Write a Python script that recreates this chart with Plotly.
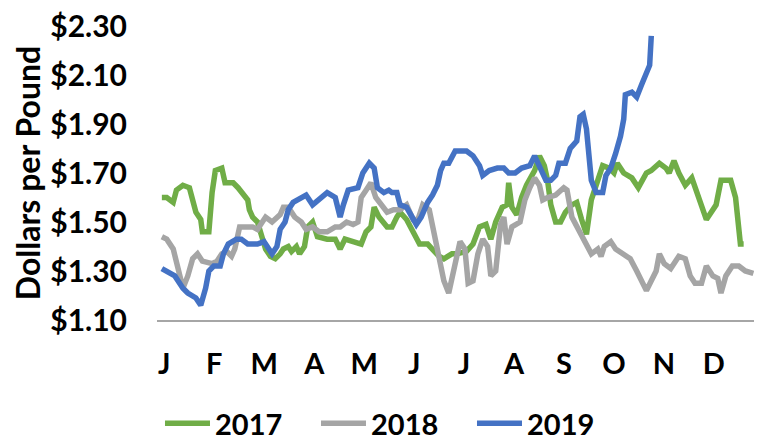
"""
Weekly price comparison, 2017-2019
"""
import plotly.graph_objects as go

# day of year / price ($/lb)
days_2017 = [1, 4, 8, 10, 14, 18, 20, 22, 25, 26, 30, 32, 34, 38, 40, 45, 48, 50, 54, 55,
             57, 60, 62, 65, 68, 71, 74, 76, 79, 81, 84, 86, 89, 91, 94, 97, 103, 108, 111,
             114, 119, 124, 127, 130, 132, 135, 140, 143, 146, 148, 152, 156, 160, 165, 168,
             172, 175, 180, 183, 189, 193, 197, 201, 204, 207, 211, 214, 215, 217, 220, 223,
             226, 231, 234, 237, 239, 241, 244, 247, 250, 254, 257, 260, 263, 266, 270, 273,
             277, 280, 282, 286, 291, 295, 300, 303, 308, 312, 314, 317, 320, 324, 328, 332,
             337, 340, 343, 346, 352, 355, 358, 360]
price_2017 = [1.60, 1.60, 1.58, 1.63, 1.65, 1.64, 1.59, 1.54, 1.51, 1.46, 1.46, 1.62, 1.71,
              1.72, 1.66, 1.66, 1.64, 1.62, 1.59, 1.55, 1.52, 1.50, 1.45, 1.39, 1.36, 1.35,
              1.37, 1.39, 1.40, 1.38, 1.40, 1.37, 1.40, 1.48, 1.50, 1.44, 1.43, 1.43, 1.39,
              1.43, 1.42, 1.41, 1.46, 1.48, 1.56, 1.52, 1.48, 1.48, 1.52, 1.54, 1.51, 1.46,
              1.41, 1.41, 1.39, 1.36, 1.35, 1.37, 1.37, 1.38, 1.41, 1.48, 1.49, 1.43, 1.50,
              1.56, 1.57, 1.66, 1.56, 1.53, 1.60, 1.65, 1.71, 1.77, 1.73, 1.67, 1.57, 1.50,
              1.50, 1.54, 1.57, 1.58, 1.51, 1.45, 1.59, 1.68, 1.73, 1.72, 1.70, 1.74, 1.70,
              1.68, 1.64, 1.70, 1.71, 1.74, 1.72, 1.70, 1.75, 1.70, 1.65, 1.68, 1.60, 1.51,
              1.54, 1.57, 1.67, 1.67, 1.60, 1.41, 1.41]

days_2018 = [1, 4, 8, 11, 14, 17, 20, 23, 26, 32, 35, 38, 41, 44, 46, 49, 52, 57, 60, 65,
             69, 74, 76, 79, 83, 87, 90, 94, 98, 103, 108, 111, 115, 119, 122, 124, 127, 130,
             133, 137, 140, 144, 148, 152, 156, 159, 162, 166, 169, 172, 175, 178, 182, 185,
             188, 190, 193, 196, 199, 202, 204, 207, 210, 212, 214, 217, 222, 225, 228, 231,
             234, 236, 239, 244, 249, 251, 254, 257, 260, 263, 266, 270, 272, 274, 278, 281,
             286, 290, 294, 297, 300, 303, 306, 308, 311, 315, 320, 324, 327, 330, 334, 337,
             341, 344, 346, 349, 353, 357, 361, 366]
price_2018 = [1.44, 1.43, 1.39, 1.32, 1.23, 1.28, 1.35, 1.37, 1.34, 1.33, 1.34, 1.37, 1.38,
              1.36, 1.39, 1.48, 1.48, 1.48, 1.47, 1.52, 1.50, 1.53, 1.56, 1.56, 1.52, 1.50,
              1.47, 1.48, 1.46, 1.46, 1.48, 1.48, 1.50, 1.49, 1.50, 1.60, 1.63, 1.66, 1.60,
              1.57, 1.54, 1.55, 1.55, 1.57, 1.51, 1.51, 1.57, 1.55, 1.45, 1.34, 1.26, 1.21,
              1.32, 1.42, 1.39, 1.25, 1.26, 1.37, 1.43, 1.40, 1.28, 1.30, 1.49, 1.52, 1.41,
              1.48, 1.50, 1.59, 1.64, 1.68, 1.65, 1.59, 1.60, 1.61, 1.64, 1.63, 1.52, 1.48,
              1.44, 1.41, 1.37, 1.39, 1.36, 1.40, 1.42, 1.39, 1.37, 1.35, 1.30, 1.26, 1.22,
              1.26, 1.30, 1.37, 1.33, 1.31, 1.36, 1.35, 1.28, 1.25, 1.25, 1.32, 1.28, 1.27,
              1.21, 1.28, 1.32, 1.32, 1.30, 1.29]

days_2019 = [1, 4, 9, 14, 17, 22, 25, 28, 30, 33, 37, 39, 42, 47, 50, 54, 60, 64, 67, 69,
             72, 74, 77, 79, 82, 87, 90, 94, 98, 103, 108, 111, 113, 116, 122, 125, 129, 132,
             134, 138, 141, 143, 146, 148, 152, 155, 158, 161, 165, 168, 171, 173, 175, 178,
             182, 185, 189, 193, 197, 199, 203, 208, 212, 215, 219, 223, 228, 231, 234, 238,
             241, 244, 246, 250, 253, 257, 259, 261, 263, 265, 266, 269, 273, 275, 278, 281,
             284, 286, 287, 291, 294, 297, 300, 302, 303]
price_2019 = [1.31, 1.30, 1.28, 1.23, 1.21, 1.19, 1.16, 1.23, 1.30, 1.32, 1.32, 1.37, 1.41,
              1.43, 1.43, 1.41, 1.41, 1.42, 1.39, 1.37, 1.40, 1.47, 1.50, 1.55, 1.58, 1.60,
              1.61, 1.57, 1.59, 1.62, 1.60, 1.52, 1.57, 1.63, 1.64, 1.70, 1.74, 1.72, 1.64,
              1.62, 1.63, 1.62, 1.62, 1.57, 1.56, 1.53, 1.49, 1.52, 1.58, 1.61, 1.65, 1.71,
              1.74, 1.74, 1.79, 1.79, 1.79, 1.77, 1.73, 1.69, 1.71, 1.72, 1.72, 1.70, 1.70,
              1.72, 1.73, 1.77, 1.73, 1.67, 1.67, 1.69, 1.74, 1.74, 1.80, 1.83, 1.93, 1.94,
              1.88, 1.77, 1.67, 1.62, 1.62, 1.69, 1.72, 1.78, 1.85, 1.92, 2.02, 2.03, 2.01,
              2.06, 2.11, 2.14, 2.26]

month_labels = ['J', 'F', 'M', 'A', 'M', 'J', 'J', 'A', 'S', 'O', 'N', 'D']
month_pos = [2.5, 33.3, 64.2, 95.0, 125.8, 156.7, 187.5, 218.3, 249.1, 280.0, 310.8, 341.6]
price_ticks = [1.10, 1.30, 1.50, 1.70, 1.90, 2.10, 2.30]
price_labels = ['$1.10', '$1.30', '$1.50', '$1.70', '$1.90', '$2.10', '$2.30']

FONT = 'Lato'

fig = go.Figure()
for name, xs, ys, color in [
    ('2017', days_2017, price_2017, '#70AD47'),
    ('2018', days_2018, price_2018, '#A5A5A5'),
    ('2019', days_2019, price_2019, '#4472C4'),
]:
    fig.add_trace(go.Scatter(
        x=xs, y=ys, name=name, mode='lines',
        line=dict(color=color, width=5.5),
    ))

# the page puts the figure 8px in from the top-left corner, margins allow for it
fig.update_layout(
    width=762,
    height=442,
    paper_bgcolor='white',
    plot_bgcolor='white',
    margin=dict(l=149, r=15, t=18, b=130),
    font=dict(family=FONT, size=28, color='black', weight='bold'),
    legend=dict(
        orientation='h',
        x=0.005, xanchor='left',
        xref='paper',
        y=0.06, yanchor='middle',
        yref='container',
        itemwidth=45,
        entrywidth=96,
        font=dict(family=FONT, size=29, weight='bold'),
    ),
    xaxis=dict(
        range=[-2, 367],
        automargin=False,
        showgrid=False,
        zeroline=False,
        showline=True,
        linecolor='#A6A6A6',
        linewidth=2,
        ticks='',
        tickvals=month_pos,
        ticktext=month_labels,
        ticklabelstandoff=17,
        tickfont=dict(family=FONT, size=29, weight='bold'),
    ),
    yaxis=dict(
        range=[1.10, 2.30],
        automargin=False,
        tickvals=price_ticks,
        ticktext=price_labels,
        ticklabeloverflow='allow',
        showgrid=False,
        zeroline=False,
        showline=False,
        ticks='',
        ticklabelstandoff=29,
        tickfont=dict(family=FONT, size=30, weight='bold'),
        title=dict(text='Dollars per Pound', standoff=11,
                   font=dict(family=FONT, size=32, weight='bold')),
    ),
)

fig.write_html("out.html")
